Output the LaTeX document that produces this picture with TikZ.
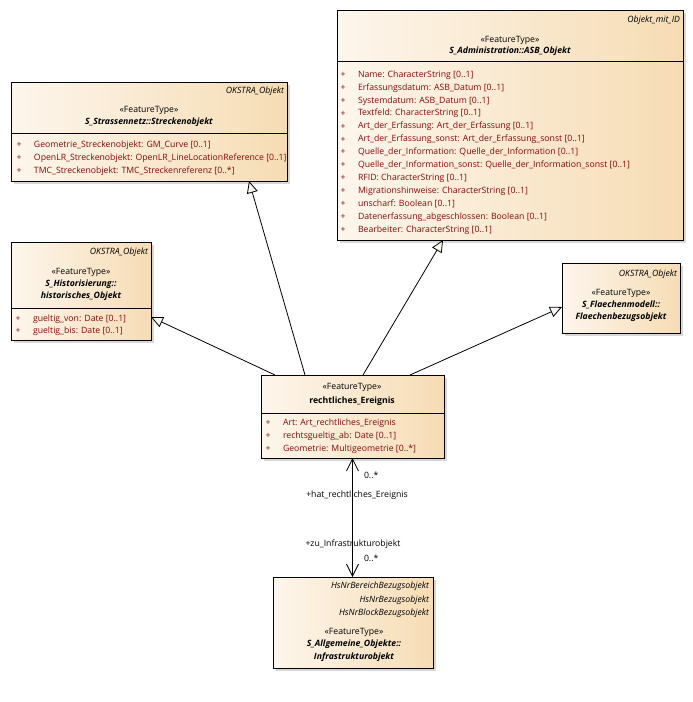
\documentclass[tikz,border=0pt]{standalone}
\usepackage{fontspec}
\setmainfont{Open Sans}
\usetikzlibrary{arrows.meta,shadows,calc}
\definecolor{attrred}{RGB}{135,10,10}
\definecolor{boxl}{RGB}{253,246,236}
\definecolor{boxr}{RGB}{246,220,180}
\definecolor{shadowgray}{RGB}{215,215,215}
\begin{document}
\begin{tikzpicture}[x=1pt,y=-1pt,
  font=\fontsize{8.7}{10.5}\selectfont,
  box/.style={draw=black, line width=0.9pt, left color=boxl, right color=boxr,
    inner sep=0pt, outer sep=0pt, anchor=north west,
    drop shadow={shadow xshift=3pt, shadow yshift=-3pt, fill=shadowgray, opacity=1}},
  divider/.style={draw=black, line width=0.9pt},
  txt/.style={inner sep=0pt, outer sep=0pt},
  par/.style={txt, anchor=east, font=\fontsize{8.7}{10.5}\selectfont\itshape},
  st/.style={txt},
  nm/.style={txt, font=\fontsize{8.7}{10.5}\selectfont\bfseries\itshape},
  nmb/.style={txt, font=\fontsize{8.7}{10.5}\selectfont\bfseries},
  plus/.style={txt, text=attrred},
  attr/.style={txt, anchor=west, text=attrred},
  lbl/.style={txt},
  gen/.style={draw=black, line width=0.8pt, -{Triangle[open, length=12pt, width=11pt, fill=boxl]}},
  assoc/.style={draw=black, line width=0.8pt, {Straight Barb[length=12pt,width=12pt]}-{Straight Barb[length=12pt,width=12pt]}}
]
\useasboundingbox (0,0) rectangle (693,702);

% boxes
\node[box, minimum width=276pt, minimum height=99pt] (str) at (11,82) {};
\node[box, minimum width=346pt, minimum height=230pt] (asb) at (337,10) {};
\node[box, minimum width=140pt, minimum height=98pt] (hist) at (11,242) {};
\node[box, minimum width=118pt, minimum height=70pt] (fl) at (562,263) {};
\node[box, minimum width=183pt, minimum height=83pt] (ev) at (261,375) {};
\node[box, minimum width=160pt, minimum height=91pt] (inf) at (273,577) {};

% dividers
\draw[divider] ([yshift=-51pt]str.north west) -- ([yshift=-51pt]str.north east);
\draw[divider] ([yshift=-51pt]asb.north west) -- ([yshift=-51pt]asb.north east);
\draw[divider] ([yshift=-66pt]hist.north west) -- ([yshift=-66pt]hist.north east);
\draw[divider] ([yshift=-38pt]ev.north west) -- ([yshift=-38pt]ev.north east);

% S_Strassennetz::Streckenobjekt
\node[par] (strP) at (284,91) {OKSTRA\_Objekt};
\node[st] (strS) at (149,110) {«FeatureType»};
\node[nm] (strN) at (149,122) {S\_Strassennetz::Streckenobjekt};
\node[plus] (strp1) at (19,145) {+};
\node[attr] (stra1) at (34,145) {Geometrie\_Streckenobjekt: GM\_Curve [0..1]};
\node[plus] (strp2) at (19,158) {+};
\node[attr] (stra2) at (34,158) {OpenLR\_Streckenobjekt: OpenLR\_LineLocationReference [0..1]};
\node[plus] (strp3) at (19,171) {+};
\node[attr] (stra3) at (34,171) {TMC\_Streckenobjekt: TMC\_Streckenreferenz [0..*]};

% S_Administration::ASB_Objekt
\node[par] (asbP) at (680,20) {Objekt\_mit\_ID};
\node[st] (asbS) at (510,40) {«FeatureType»};
\node[nm] (asbN) at (510,51) {S\_Administration::ASB\_Objekt};
\foreach \t [count=\i from 0] in {
  {Name: CharacterString [0..1]},
  {Erfassungsdatum: ASB\_Datum [0..1]},
  {Systemdatum: ASB\_Datum [0..1]},
  {Textfeld: CharacterString [0..1]},
  {Art\_der\_Erfassung: Art\_der\_Erfassung [0..1]},
  {Art\_der\_Erfassung\_sonst: Art\_der\_Erfassung\_sonst [0..1]},
  {Quelle\_der\_Information: Quelle\_der\_Information [0..1]},
  {Quelle\_der\_Information\_sonst: Quelle\_der\_Information\_sonst [0..1]},
  {RFID: CharacterString [0..1]},
  {Migrationshinweise: CharacterString [0..1]},
  {unscharf: Boolean [0..1]},
  {Datenerfassung\_abgeschlossen: Boolean [0..1]},
  {Bearbeiter: CharacterString [0..1]}} {
  \node[plus] (asbp\i) at (343,75+12.9*\i) {+};
  \node[attr] (asba\i) at (358,75+12.9*\i) {\t};
}

% S_Historisierung::historisches_Objekt
\node[par] (histP) at (148,252) {OKSTRA\_Objekt};
\node[st] (histS) at (81,272) {«FeatureType»};
\node[nm] (histN1) at (81,284) {S\_Historisierung::};
\node[nm] (histN2) at (81,296) {historisches\_Objekt};
\node[plus] (histp1) at (18,319) {+};
\node[attr] (hista1) at (33,319) {gueltig\_von: Date [0..1]};
\node[plus] (histp2) at (18,331) {+};
\node[attr] (hista2) at (33,331) {gueltig\_bis: Date [0..1]};

% S_Flaechenmodell::Flaechenbezugsobjekt
\node[par] (flP) at (677,274) {OKSTRA\_Objekt};
\node[st] (flS) at (621,293) {«FeatureType»};
\node[nm] (flN1) at (621,305) {S\_Flaechenmodell::};
\node[nm] (flN2) at (621,317) {Flaechenbezugsobjekt};

% rechtliches_Ereignis
\node[st] (evS) at (352,387) {«FeatureType»};
\node[nmb] (evN) at (352,401) {rechtliches\_Ereignis};
\node[plus] (evp1) at (268,423) {+};
\node[attr] (eva1) at (283,423) {Art: Art\_rechtliches\_Ereignis};
\node[plus] (evp2) at (268,436) {+};
\node[attr] (eva2) at (283,436) {rechtsgueltig\_ab: Date [0..1]};
\node[plus] (evp3) at (268,449) {+};
\node[attr] (eva3) at (283,449) {Geometrie: Multigeometrie [0..*]};

% S_Allgemeine_Objekte::Infrastrukturobjekt
\node[par] (infP1) at (429,586) {HsNrBereichBezugsobjekt};
\node[par] (infP2) at (429,600) {HsNrBezugsobjekt};
\node[par] (infP3) at (429,613) {HsNrBlockBezugsobjekt};
\node[st] (infS) at (354,632) {«FeatureType»};
\node[nm] (infN1) at (354,644) {S\_Allgemeine\_Objekte::};
\node[nm] (infN2) at (354,657) {Infrastrukturobjekt};

% generalizations
\draw[gen] ($(ev.north west)+(44,0)$) -- ($(str.south west)+(238,0)$);
\draw[gen] ($(ev.north west)+(102,0)$) -- ($(asb.south west)+(106,0)$);
\draw[gen] ($(ev.north west)+(14,0)$) -- ($(hist.north east)+(0,75)$);
\draw[gen] ($(ev.north west)+(149,0)$) -- ($(fl.north west)+(0,44)$);

% association
\draw[assoc] (ev.south) -- (ev.south |- inf.north);
\node[lbl, anchor=west] (m1) at (364,475) {0..*};
\node[lbl] (r1) at (357,495) {+hat\_rechtliches\_Ereignis};
\node[lbl] (r2) at (353,544) {+zu\_Infrastrukturobjekt};
\node[lbl, anchor=west] (m2) at (364,558) {0..*};
\end{tikzpicture}
\end{document}
